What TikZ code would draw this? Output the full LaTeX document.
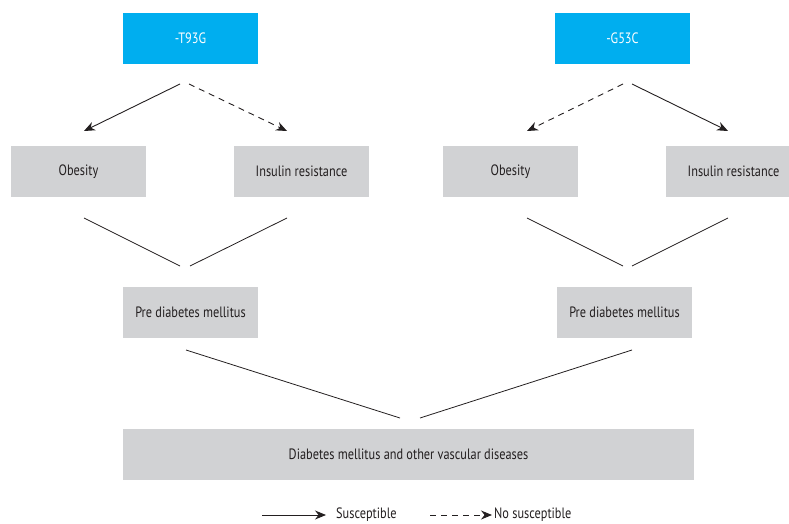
\documentclass[tikz,border=0pt]{standalone}
\usepackage{fontspec}
\setmainfont{PT Sans}[FakeStretch=0.82]
\usetikzlibrary{arrows.meta}

\definecolor{geneblue}{HTML}{00AEEF}
\definecolor{boxgray}{HTML}{D1D2D4}
\definecolor{inkgray}{HTML}{231F20}

\tikzset{
	gene/.style={fill=geneblue, text=white, minimum width=135pt, minimum height=51pt, inner sep=0pt, font=\fontsize{15}{17}\selectfont},
	trait/.style={fill=boxgray, text=inkgray, minimum width=135pt, minimum height=51pt, inner sep=0pt, font=\fontsize{15}{17}\selectfont},
	susc/.style={draw=inkgray, line width=0.9pt, -{Stealth[length=11pt,width=9pt]}},
	nosusc/.style={susc, dash pattern=on 6pt off 5pt},
	link/.style={draw=inkgray, line width=0.8pt},
	legend/.style={text=inkgray, font=\fontsize{15}{17}\selectfont, anchor=west, inner sep=0pt},
}

\begin{document}
\begin{tikzpicture}[x=1pt,y=-1pt]
		\useasboundingbox (0,0) rectangle (789,524);
		\clip (0,0) rectangle (789,524);
		% genes
		\node[gene] at (190.5,38.5) (t93g) {-T93G};
		\node[gene] at (622.5,38.5) (g53c) {-G53C};
		% traits
		\node[trait] at (78.5,171.5) (obL) {Obesity};
		\node[trait] at (301.5,171.5) (irL) {Insulin resistance};
		\node[trait] at (510.5,171.5) (obR) {Obesity};
		\node[trait] at (733.5,171.5) (irR) {Insulin resistance};
		\node[trait] at (190.5,312.5) (pdL) {Pre diabetes mellitus};
		\node[trait] at (624.5,312.5) (pdR) {Pre diabetes mellitus};
		\node[trait, minimum width=571pt] at (408.5,454) (dm) {Diabetes mellitus and other vascular diseases};
		% arrow ends
		\coordinate (t1) at (180,84);
		\coordinate (t2) at (189,84);
		\coordinate (g1) at (623,84);
		\coordinate (g2) at (632,84);
		\coordinate (a1) at (84,131);
		\coordinate (a2) at (287,131);
		\coordinate (a3) at (527,131);
		\coordinate (a4) at (728,131);
		\draw[susc] (t1) -- (a1);
		\draw[nosusc] (t2) -- (a2);
		\draw[nosusc] (g1) -- (a3);
		\draw[susc] (g2) -- (a4);
		% links
		\coordinate (j1) at (84,218);
		\coordinate (j2) at (287,218);
		\coordinate (j3) at (527,218);
		\coordinate (j4) at (728,218);
		\coordinate (m1) at (180,266);
		\coordinate (m2) at (190,266);
		\coordinate (m3) at (623,266);
		\coordinate (m4) at (632,266);
		\draw[link] (j1) -- (m1);
		\draw[link] (j2) -- (m2);
		\draw[link] (j3) -- (m3);
		\draw[link] (j4) -- (m4);
		\coordinate (p1) at (186,350);
		\coordinate (p2) at (632,350);
		\coordinate (q1) at (400,418);
		\coordinate (q2) at (420,418);
		\draw[link] (p1) -- (q1);
		\draw[link] (p2) -- (q2);
		% legend
		\coordinate (l1) at (262,515);
		\coordinate (l2) at (326,515);
		\coordinate (l3) at (430,515);
		\coordinate (l4) at (492,515);
		\draw[susc] (l1) -- (l2);
		\draw[nosusc] (l3) -- (l4);
		\node[legend] at (336,515) (ls) {Susceptible};
		\node[legend] at (494,515) (ln) {No susceptible};
	\end{tikzpicture}
\end{document}
